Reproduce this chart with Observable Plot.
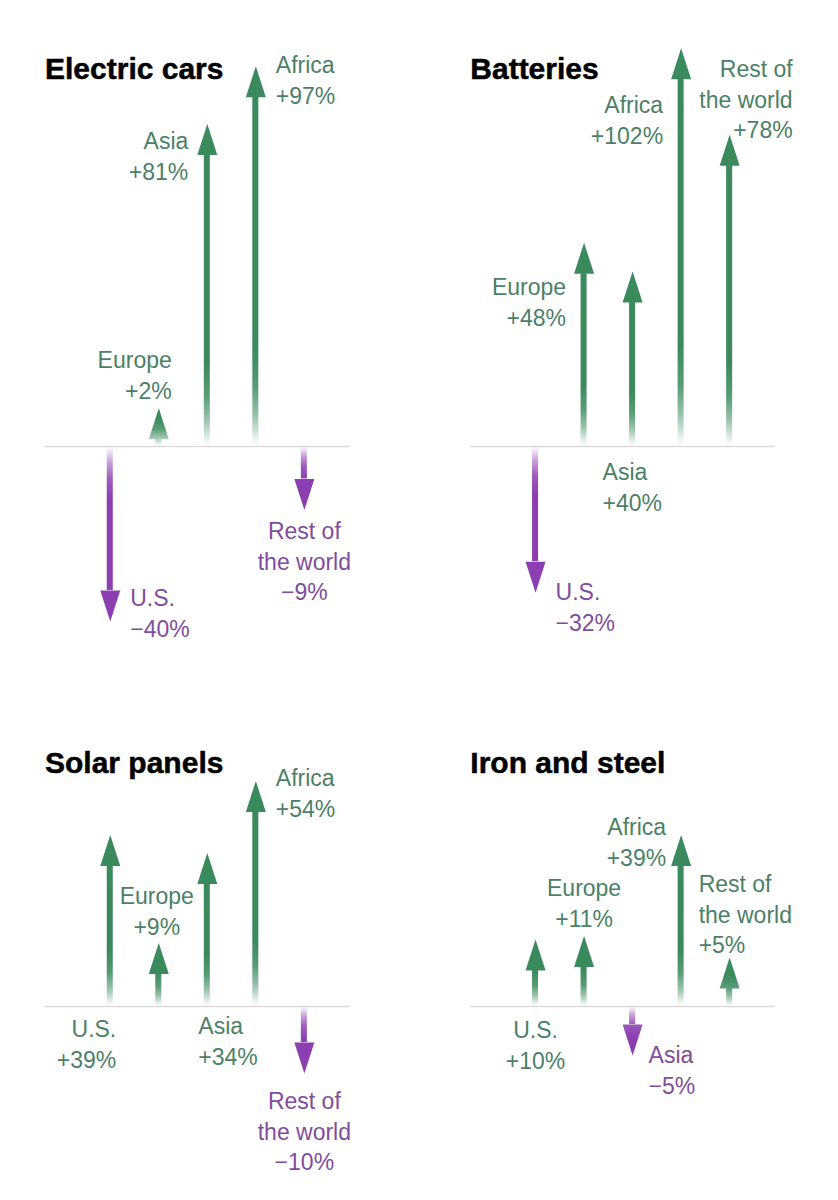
<!DOCTYPE html>
<html>
<head>
<meta charset="utf-8">
<script src="https://cdn.jsdelivr.net/npm/d3@7"></script>
<script src="https://cdn.jsdelivr.net/npm/@observablehq/plot@0.6"></script>
<style>
  body { margin: 0; background: white; }
  svg { display: block; }
</style>
</head>
<body>
<div id="chart"></div>
<script>
const titles = ["Electric cars", "Batteries", "Solar panels", "Iron and steel"]
const regions = ["U.S.", "Europe", "Asia", "Africa", "Rest of\nthe world"]

// percent change, same order as regions
const electricCars = [-40, 2, 81, 97, -9]
const batteries = [-32, 48, 40, 102, 78]
const solarPanels = [39, 9, 34, 54, -10]
const ironSteel = [10, 11, -5, 39, 5]

// label spot per arrow: dx from the arrow, dy from the baseline, anchor
const labelSpots = [
  [[20, 138, "start"], [13, -100, "end"], [-19, -319, "end"], [20, -395, "start"], [0, 71, "middle"]],
  [[20, 132, "start"], [-18, -173, "end"], [-30, 12, "start"], [-18, -355, "end"], [63, -391, "end"]],
  [[6, 9, "end"], [-2, -124, "middle"], [-9, 6, "start"], [20, -242, "start"], [0, 81, "middle"]],
  [[0, 10, "middle"], [0, -132, "middle"], [16, 35, "start"], [-15, -193, "end"], [-31, -136, "start"]]
]
const titleDy = [57, 191]

const green = "#3b8a5e", purple = "#8b3fb0"
const greenText = "#4c7f68", purpleText = "#7f4d9b"
const font = "Liberation Sans"

const series = [electricCars, batteries, solarPanels, ironSteel]
const rows = series.flatMap((values, p) => values.map((value, i) => ({
  region: regions[i],
  value,
  col: p % 2,
  row: Math.floor(p / 2),
  label: `${regions[i]}\n${value < 0 ? "\u2212" : "+"}${Math.abs(value)}%`,
  spot: labelSpots[p][i],
  // the fade gets a bit longer on the long arrows
  fade: Math.sign(value) * (7.5 + 0.2 * Math.abs(value))
})))
const up = rows.filter(d => d.value >= 0)
const down = rows.filter(d => d.value < 0)
const panels = titles.map((title, p) => ({title, col: p % 2, row: Math.floor(p / 2)}))

const headUp = {draw(ctx) { ctx.moveTo(-10, 0); ctx.lineTo(10, 0); ctx.lineTo(0, -31); ctx.closePath() }}
const headDown = {draw(ctx) { ctx.moveTo(-10, 0); ctx.lineTo(10, 0); ctx.lineTo(0, 31); ctx.closePath() }}

const facet = {x: "region", fx: "col", fy: "row"}

function arrows(data, color, head, fadeUrl) {
  return [
    Plot.barY(data, {...facet, y1: 0, y2: "value", fill: color, insetLeft: 21.25, insetRight: 21.25}),
    Plot.dot(data, {...facet, y: "value", symbol: head, fill: color, stroke: "none"}),
    Plot.barY(data, {...facet, y1: 0, y2: "fade", fill: fadeUrl, insetLeft: 12, insetRight: 12})
  ]
}

const chart = Plot.plot({
  width: 838,
  height: 1200,
  marginTop: 0,
  marginLeft: 44.5,
  marginRight: 63,
  marginBottom: 80,
  style: {background: "white", fontFamily: font},
  fx: {axis: null, domain: [0, 1], paddingInner: 120 / 425, paddingOuter: 0, round: false},
  fy: {axis: null, domain: [0, 1], padding: 0, round: false},
  x: {axis: null, type: "band", domain: regions, paddingInner: 0, paddingOuter: 0.645, align: 0.655, round: false},
  y: {axis: null, domain: [-31.67, 123.9]},
  marks: [
    ...arrows(up, green, headUp, "url(#fadeUp)"),
    ...arrows(down, purple, headDown, "url(#fadeDown)"),
    Plot.ruleY([0], {stroke: "#dcdcdc", strokeWidth: 1.5}),
    ...rows.map(d => Plot.text([d], {
      ...facet,
      y: () => 0,
      text: "label",
      dx: d.spot[0],
      dy: d.spot[1],
      textAnchor: d.spot[2],
      lineAnchor: "top",
      lineHeight: 1.33,
      fontSize: 23,
      fill: d.value < 0 ? purpleText : greenText
    })),
    ...panels.map(d => Plot.text([d], {
      fx: "col",
      fy: "row",
      text: "title",
      frameAnchor: "top-left",
      textAnchor: "start",
      lineAnchor: "top",
      dy: titleDy[d.row],
      fontSize: 30,
      fontWeight: 700,
      fill: "#000",
      stroke: "#000",
      strokeWidth: 0.5
    }))
  ]
})

// white fades laid over the foot of each arrow
const defs = d3.select(chart).insert("defs", ":first-child")
const stops = [[0, 1], [0.06, 0.92], [0.3, 0.5], [0.6, 0.15], [1, 0]]
for (const [id, y1, y2] of [["fadeUp", 1, 0], ["fadeDown", 0, 1]]) {
  const grad = defs.append("linearGradient").attr("id", id)
    .attr("x1", 0).attr("x2", 0).attr("y1", y1).attr("y2", y2)
  for (const [offset, opacity] of stops) {
    grad.append("stop").attr("offset", offset).attr("stop-color", "white").attr("stop-opacity", opacity)
  }
}

d3.select("#chart").append(() => chart)
</script>
</body>
</html>
